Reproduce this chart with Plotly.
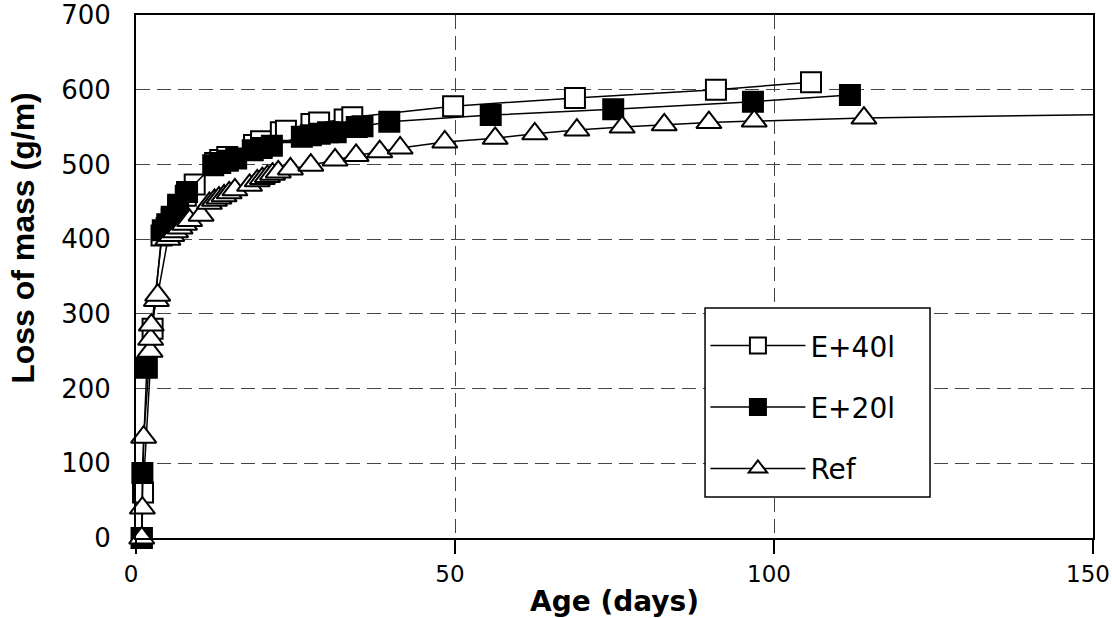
import plotly.graph_objects as go

# ---- data ----
e40_x = [0.9, 1.1, 2.6, 4.0, 4.8, 5.6, 6.6, 7.8, 9.2, 12.4, 13.2, 14.3, 18.5, 19.6,
         22.7, 23.5, 27.5, 28.7, 32.7, 33.9, 49.7, 68.8, 90.9, 105.8]
e40_y = [0, 61, 280, 405, 415, 428, 442, 458, 473, 502, 506, 510, 526, 531,
         543, 545, 554, 556, 560, 563, 578, 589, 600, 610]

e20_x = [0.9, 1.0, 1.7, 4.2, 4.9, 5.6, 6.6, 8.0, 12.1, 13.2, 14.4, 15.7, 18.3, 19.7,
         21.3, 26.0, 27.4, 28.8, 30.1, 31.3, 34.6, 35.5, 39.7, 55.6, 74.8, 96.7, 111.9]
e20_y = [0, 87, 228, 412, 420, 430, 446, 463, 499, 502, 505, 508, 519, 522,
         525, 537, 539, 541, 543, 543, 550, 551, 557, 566, 574, 584, 593]

ref_x = [0.9, 1.0, 1.2, 2.2, 2.3, 2.4, 3.2, 3.4, 5.0, 5.6, 6.2, 6.9, 7.6, 8.4, 10.2,
         11.5, 12.3, 13.0, 13.8, 14.6, 15.5, 17.8, 19.0, 19.8, 20.6, 21.4, 22.3, 24.2,
         27.4, 31.2, 34.5, 38.2, 41.4, 48.4, 56.3, 62.5, 69.1, 76.2, 82.8, 89.8, 96.9, 114.1]
ref_y = [0, 40, 135, 250, 266, 285, 318, 325, 400, 405, 410, 415, 420, 425, 432,
         448, 452, 455, 458, 462, 466, 472, 478, 481, 484, 487, 490, 494,
         499, 506, 512, 517, 522, 530, 535, 541, 546, 550, 553, 556, 558, 562]
# Ref curve continues beyond the last marker (past the right edge)
ref_tail_x = 165
ref_tail_y = 568.5

x_ticks = [0, 50, 100, 150]
y_ticks = [0, 100, 200, 300, 400, 500, 600, 700]

LINE = dict(color="black", width=1.5)
fig = go.Figure()

fig.add_trace(go.Scatter(
    x=e40_x, y=e40_y, mode="lines+markers", name="E+40l", legendgroup="a",
    line=LINE, cliponaxis=False,
    marker=dict(symbol="square", size=20, color="white", line=dict(color="black", width=2))))

fig.add_trace(go.Scatter(
    x=e20_x, y=e20_y, mode="lines+markers", name="E+20l", legendgroup="b",
    line=LINE, cliponaxis=False,
    marker=dict(symbol="square", size=20, color="black", line=dict(color="black", width=2))))

fig.add_trace(go.Scatter(
    x=[ref_x[-1], ref_tail_x], y=[ref_y[-1], ref_tail_y], mode="lines",
    line=LINE, showlegend=False, hoverinfo="skip"))

fig.add_trace(go.Scatter(
    x=ref_x, y=ref_y, mode="lines+markers", name="Ref", legendgroup="c",
    line=LINE, cliponaxis=False,
    marker=dict(symbol="triangle-up", size=22, color="white", line=dict(color="black", width=2))))

GRID = dict(showgrid=True, gridcolor="#444", gridwidth=1.3, griddash="14px,7px",
            showline=True, linecolor="black", linewidth=2, mirror=True,
            zeroline=False, automargin=False, ticklabeloverflow="allow")

fig.update_xaxes(range=[0, 150], tickvals=x_ticks, ticks="outside", ticklen=14,
                 tickwidth=1.5, tickcolor="black", ticklabelshift=-5,
                 tickfont=dict(family="DejaVu Sans", size=23, color="black"),
                 title=dict(text="Age (days)", standoff=6,
                            font=dict(family="DejaVu Sans", size=28, color="black", weight="bold")),
                 **GRID)
fig.update_yaxes(range=[0, 700], tickvals=y_ticks, ticks="", ticklen=0,
                 ticklabelstandoff=18,
                 tickfont=dict(family="DejaVu Sans", size=26, color="black"),
                 **GRID)

fig.add_annotation(text="Loss of mass (g/m)", textangle=-90,
                   xref="paper", yref="paper", x=-0.118, y=0.574,
                   xanchor="center", yanchor="middle", showarrow=False,
                   font=dict(family="Liberation Sans", size=32, color="black", weight="bold"))

# legend frame (white box, hides the grid behind the legend)
fig.add_shape(type="rect", xref="paper", yref="paper",
              x0=0.5946, x1=0.8297, y0=0.0784, y1=0.4398, layer="above",
              fillcolor="white", line=dict(color="black", width=1.5))

fig.update_layout(
    width=1112, height=618,
    margin=dict(l=136, r=19, t=15, b=80, autoexpand=False),
    plot_bgcolor="white", paper_bgcolor="white",
    showlegend=True,
    legend=dict(x=0.595, y=0.44, xanchor="left", yanchor="top",
                bgcolor="rgba(0,0,0,0)", borderwidth=0,
                font=dict(family="DejaVu Sans", size=28, color="black"),
                title=dict(text=" ", font=dict(size=10)),
                tracegroupgap=22, itemwidth=95, traceorder="grouped"),
)

fig.write_html("out.html")
